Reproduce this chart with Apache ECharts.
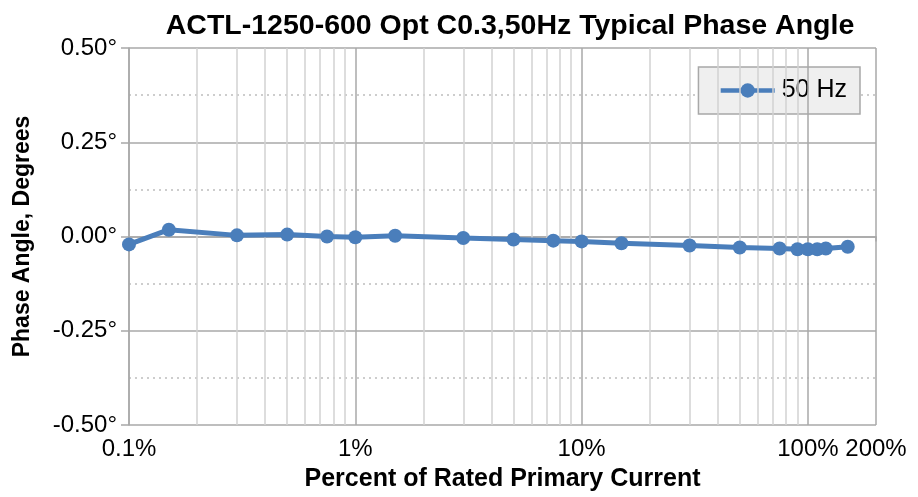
<!DOCTYPE html>
<html>
<head>
<meta charset="utf-8">
<script src="https://cdn.jsdelivr.net/npm/echarts@6/dist/echarts.min.js"></script>
<style>html,body{margin:0;padding:0;background:#fff}#c{width:918px;height:497px}</style>
</head>
<body>
<div id="c"></div>
<script>
const title = 'ACTL-1250-600 Opt C0.3,50Hz Typical Phase Angle';
const seriesName = '50 Hz';
const percentCurrent = [0.1, 0.15, 0.3, 0.5, 0.75, 1, 1.5, 3, 5, 7.5, 10, 15, 30, 50, 75, 90, 100, 110, 120, 150];
const phaseAngle = [-0.021, 0.018, 0.003, 0.005, 0.0, -0.002, 0.002, -0.004, -0.008, -0.011, -0.013, -0.018, -0.024, -0.029, -0.032, -0.034, -0.034, -0.034, -0.032, -0.027];
const xLabelValues = [0.1, 1, 10, 100, 200];
const majorGridX = [0.1, 1, 10, 100, 200];
const minorGridX = [0.2,0.3,0.4,0.5,0.6,0.7,0.8,0.9,2,3,4,5,6,7,8,9,20,30,40,50,60,70,80,90];

const FONT = '"Liberation Sans", Arial, sans-serif';
const chart = echarts.init(document.getElementById('c'), null, {renderer: 'canvas'});
const gridLines = minorGridX.map(v => ({xAxis: v, lineStyle: {color: '#d2d2d2', width: 1.5, type: 'solid'}}))
  .concat(majorGridX.map(v => ({xAxis: v, lineStyle: {color: '#a8a8a8', width: 1.5, type: 'solid'}})));

chart.setOption({
  animation: false,
  backgroundColor: '#fff',
  title: {
    text: title, left: 505, top: 7, textAlign: 'center',
    textStyle: {fontFamily: FONT, fontWeight: 'bold', fontSize: 28.5, color: '#000'}
  },
  legend: {
    data: [seriesName], right: 58, top: 67,
    backgroundColor: '#efefef', borderColor: '#a8a8a8', borderWidth: 1.5,
    padding: [11, 13, 11, 20], itemWidth: 54, itemHeight: 18, itemGap: 0,
    lineStyle: {width: 4.5},
    textStyle: {fontFamily: FONT, fontSize: 25, color: '#000', padding: [0, 0, 0, 2]}
  },
  grid: {left: 129, right: 42, top: 48, bottom: 71, containLabel: false},
  xAxis: {
    type: 'log', logBase: 10, min: 0.1, max: 200,
    name: 'Percent of Rated Primary Current', nameLocation: 'middle', nameGap: 42,
    nameTextStyle: {fontFamily: FONT, fontWeight: 'bold', fontSize: 25, color: '#000'},
    axisLine: {show: true, lineStyle: {color: '#a8a8a8', width: 1.5}},
    axisTick: {show: true, length: 5, customValues: xLabelValues, lineStyle: {color: '#a8a8a8', width: 1.5}},
    axisLabel: {
      customValues: xLabelValues, fontFamily: FONT, fontSize: 24, color: '#000', margin: 12,
      formatter: v => Number(Number(v).toPrecision(3)) + '%'
    },
    splitLine: {show: false}, minorSplitLine: {show: false}
  },
  yAxis: {
    type: 'value', min: -0.5, max: 0.5, interval: 0.25,
    name: 'Phase Angle, Degrees', nameLocation: 'middle', nameGap: 95,
    nameTextStyle: {fontFamily: FONT, fontWeight: 'bold', fontSize: 23, color: '#000'},
    axisLine: {show: true, lineStyle: {color: '#a8a8a8', width: 1.5}},
    axisTick: {show: true, length: 8, lineStyle: {color: '#a8a8a8', width: 1.5}},
    axisLabel: {fontFamily: FONT, fontSize: 24, color: '#000', margin: 12, formatter: v => v.toFixed(2) + '°'},
    splitLine: {show: true, lineStyle: {color: '#a8a8a8', width: 1.5}},
    minorTick: {show: false, splitNumber: 2},
    minorSplitLine: {show: true, lineStyle: {color: '#bdbdbd', width: 1.5, type: [2, 4]}}
  },
  series: [
    {
      name: 'grid', type: 'line', data: [], silent: true, z: 1,
      markLine: {silent: true, symbol: 'none', label: {show: false}, animation: false, data: gridLines}
    },
    {
      name: seriesName, type: 'line', z: 5,
      data: percentCurrent.map((p, i) => [p, phaseAngle[i]]),
      symbol: 'circle', symbolSize: 14,
      lineStyle: {color: '#4a7ebb', width: 5},
      itemStyle: {color: '#4a7ebb'}
    }
  ]
});
</script>
</body>
</html>
